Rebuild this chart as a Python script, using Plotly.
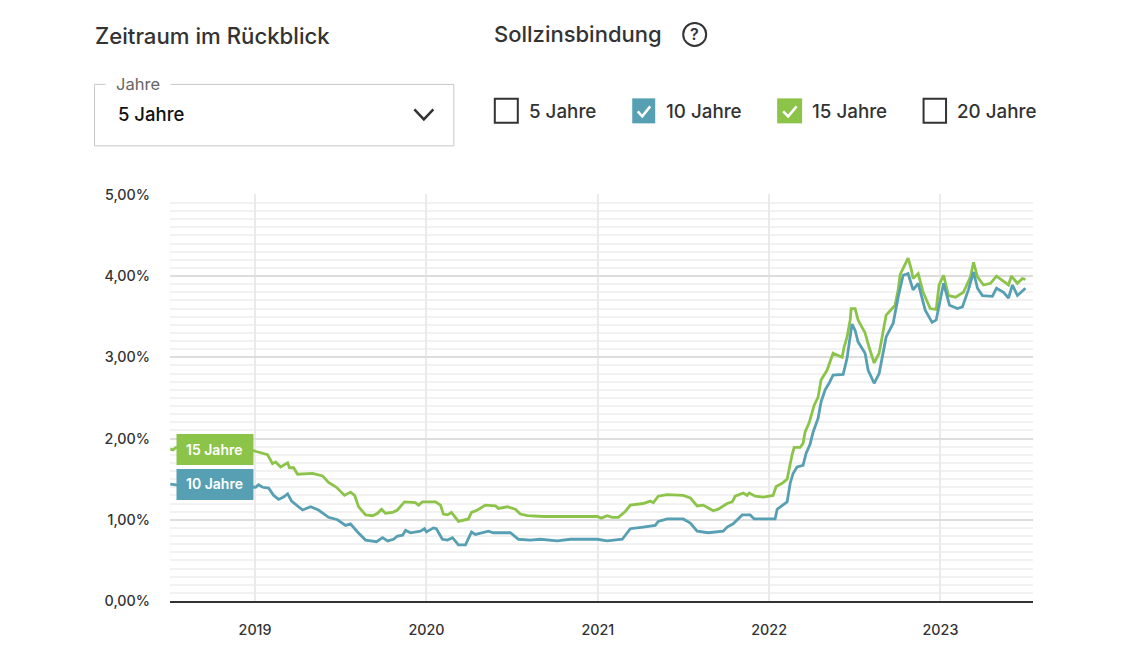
import plotly.graph_objects as go

# ---- data ----
years_15 = [2018.505,2018.52,2018.54,2018.99,2019.073,2019.102,2019.12,2019.149,2019.19,2019.201,2019.225,2019.248,2019.335,2019.394,2019.429,2019.475,2019.522,2019.557,2019.581,2019.604,2019.645,2019.686,2019.715,2019.738,2019.761,2019.802,2019.831,2019.872,2019.936,2019.954,2019.977,
2020.053,2020.082,2020.099,2020.123,2020.146,2020.187,2020.245,2020.263,2020.298,2020.344,2020.403,2020.42,2020.473,2020.519,2020.548,2020.589,2020.683,2020.799,2020.997,
2021.02,2021.055,2021.085,2021.12,2021.16,2021.19,2021.265,2021.306,2021.324,2021.353,2021.405,2021.499,2021.54,2021.58,2021.615,2021.674,2021.703,2021.755,2021.785,2021.802,2021.849,2021.872,2021.884,2021.919,2021.965,
2022.006,2022.023,2022.041,2022.076,2022.105,2022.117,2022.134,2022.146,2022.181,2022.198,2022.21,2022.233,2022.251,2022.263,2022.286,2022.303,2022.338,2022.356,2022.373,2022.426,2022.438,2022.455,2022.473,2022.479,2022.502,2022.519,2022.56,2022.584,2022.613,2022.642,2022.665,2022.683,2022.735,2022.753,2022.765,2022.782,2022.811,2022.829,2022.84,2022.87,2022.899,2022.94,2022.975,2022.992,
2023.018,2023.047,2023.088,2023.134,2023.175,2023.193,2023.216,2023.251,2023.292,2023.327,2023.397,2023.414,2023.449,2023.478,2023.496]
rates_15 = [1.87,1.86,1.89,1.85,1.80,1.69,1.71,1.65,1.70,1.64,1.64,1.56,1.57,1.54,1.46,1.40,1.30,1.34,1.30,1.16,1.06,1.05,1.08,1.13,1.08,1.09,1.12,1.22,1.21,1.18,1.22,
1.22,1.18,1.07,1.06,1.09,0.98,1.01,1.09,1.12,1.18,1.17,1.14,1.16,1.13,1.07,1.05,1.04,1.04,1.04,
1.02,1.05,1.03,1.03,1.10,1.18,1.20,1.23,1.21,1.29,1.31,1.30,1.27,1.17,1.18,1.11,1.13,1.20,1.22,1.29,1.33,1.30,1.33,1.29,1.28,
1.29,1.30,1.41,1.45,1.50,1.64,1.80,1.89,1.89,1.94,2.08,2.19,2.33,2.41,2.51,2.72,2.84,2.94,3.05,3.00,3.13,3.25,3.46,3.60,3.60,3.46,3.30,3.12,2.93,3.05,3.33,3.52,3.64,3.83,4.02,4.09,4.22,4.09,3.97,4.03,3.80,3.60,3.59,3.89,
4.01,3.76,3.74,3.80,3.99,4.17,3.99,3.89,3.91,4.00,3.89,4.00,3.91,3.97,3.96]

years_10 = [2018.505,2018.54,2019.003,2019.02,2019.044,2019.079,2019.108,2019.137,2019.166,2019.19,2019.213,2019.277,2019.324,2019.37,2019.429,2019.481,2019.528,2019.557,2019.598,2019.645,2019.709,2019.744,2019.773,2019.808,2019.831,2019.861,2019.878,2019.907,2019.965,2019.989,
2020.0,2020.041,2020.058,2020.093,2020.123,2020.152,2020.187,2020.228,2020.263,2020.286,2020.362,2020.391,2020.49,2020.508,2020.537,2020.607,2020.665,2020.764,2020.84,2020.997,
2021.055,2021.143,2021.19,2021.265,2021.335,2021.353,2021.405,2021.499,2021.54,2021.58,2021.645,2021.732,2021.755,2021.79,2021.843,2021.889,2021.913,2021.994,
2022.035,2022.047,2022.076,2022.105,2022.123,2022.14,2022.163,2022.198,2022.216,2022.239,2022.257,2022.286,2022.303,2022.327,2022.35,2022.373,2022.432,2022.455,2022.467,2022.484,2022.502,2022.519,2022.56,2022.578,2022.613,2022.642,2022.683,2022.724,2022.753,2022.782,2022.811,2022.84,2022.87,2022.911,2022.951,2022.975,
2023.018,2023.053,2023.099,2023.128,2023.163,2023.193,2023.216,2023.245,2023.303,2023.327,2023.368,2023.397,2023.42,2023.449,2023.496]
rates_10 = [1.44,1.43,1.40,1.43,1.40,1.39,1.30,1.25,1.28,1.32,1.23,1.12,1.16,1.12,1.03,1.00,0.93,0.95,0.85,0.75,0.73,0.78,0.74,0.76,0.80,0.81,0.87,0.84,0.86,0.89,
0.85,0.90,0.89,0.76,0.75,0.78,0.69,0.69,0.85,0.82,0.86,0.84,0.84,0.81,0.76,0.75,0.76,0.74,0.76,0.76,
0.74,0.76,0.89,0.91,0.93,0.98,1.01,1.01,0.96,0.86,0.84,0.86,0.91,0.95,1.06,1.06,1.01,1.01,
1.01,1.13,1.17,1.22,1.45,1.57,1.65,1.67,1.82,1.93,2.08,2.25,2.45,2.60,2.68,2.78,2.79,2.99,3.17,3.41,3.33,3.19,3.05,2.84,2.68,2.80,3.25,3.42,3.74,4.01,4.03,3.83,3.91,3.58,3.43,3.46,
3.91,3.64,3.60,3.62,3.83,4.05,3.85,3.76,3.75,3.85,3.80,3.73,3.89,3.76,3.85]

year_ticks = [2019, 2020, 2021, 2022, 2023]
rate_ticks = [0, 1, 2, 3, 4, 5]
rate_labels = ["0,00%", "1,00%", "2,00%", "3,00%", "4,00%", "5,00%"]
series_names = ["10 Jahre", "15 Jahre"]

# ---- layout constants ----
W, H = 1143, 658
L, R, T, B = 169.5, 1033, 193.7, 601
BLUE, GREEN, DARK = "#579FB3", "#8CC449", "#333333"
FONT = "Inter"

def px(x): return (x - L) / (R - L)
def py(y): return (B - y) / (B - T)

shapes, annos = [], []

def rect(x0, y0, x1, y1, fill="rgba(0,0,0,0)", line=None, lw=1.5):
    shapes.append(dict(type="rect", xref="paper", yref="paper", x0=px(x0), x1=px(x1), y0=py(y0), y1=py(y1),
                       fillcolor=fill, line=dict(color=line or fill, width=lw if line else 0), layer="above"))

def poly(points, color, lw=2.5):
    d = "M " + " L ".join(f"{px(a):.5f},{py(b):.5f}" for a, b in points)
    shapes.append(dict(type="path", xref="paper", yref="paper", path=d, line=dict(color=color, width=lw), layer="above"))

def text(x, y, s, size, color=DARK, anchor="left", weight=500):
    annos.append(dict(xref="paper", yref="paper", x=px(x), y=py(y), text=s, showarrow=False, xanchor=anchor, yanchor="middle",
                      borderpad=0, font=dict(family=FONT, size=size, color=color, weight=weight)))

# headings
text(93.5, 35, "Zeitraum im Rückblick", 22.2, weight=500)
text(492.5, 33.5, "Sollzinsbindung", 22, weight=500)
shapes.append(dict(type="circle", xref="paper", yref="paper", x0=px(683), x1=px(706), y0=py(22.5), y1=py(45.5),
                   line=dict(color=DARK, width=2), layer="above"))
text(694.5, 34, "?", 16, anchor="center", weight=600)

# dropdown
rect(94, 84, 453.5, 145.5, fill="rgba(0,0,0,0)", line="#C8C8C8", lw=1)
rect(105, 80, 170, 90, fill="#FFFFFF")
text(114, 84, "Jahre", 16.5, color="#666666", weight=400)
text(116.5, 114, "5 Jahre", 18.5, color="#111111", weight=500)
poly([(414, 109), (423.5, 119), (433, 109)], DARK, 2.5)

# checkboxes
rect(494.5, 98.5, 517.5, 122.5, fill="#FFFFFF", line=DARK, lw=2)
text(528, 111, "5 Jahre", 18.8, weight=500)
rect(632, 98, 655, 123, fill=BLUE)
poly([(637.5, 111), (642, 116), (650, 106)], "#FFFFFF", 2.5)
text(665, 111, "10 Jahre", 18.8, weight=500)
rect(777, 98, 802, 123, fill=GREEN)
poly([(783, 111), (788, 116), (796.5, 106)], "#FFFFFF", 2.5)
text(811, 111, "15 Jahre", 18.8, weight=500)
rect(923.5, 98.5, 946, 122.5, fill="#FFFFFF", line=DARK, lw=2)
text(956, 111, "20 Jahre", 18.8, weight=500)

# series tags on the plot
rect(176, 434, 253, 465, fill=GREEN)
text(214, 449, series_names[1], 14, color="#FFFFFF", anchor="center", weight=600)
rect(176, 469, 253, 500, fill=BLUE)
text(214, 483.5, series_names[0], 14, color="#FFFFFF", anchor="center", weight=600)

fig = go.Figure()
fig.add_trace(go.Scatter(x=years_15, y=rates_15, mode="lines", name=series_names[1], line=dict(color=GREEN, width=2.8)))
fig.add_trace(go.Scatter(x=years_10, y=rates_10, mode="lines", name=series_names[0], line=dict(color=BLUE, width=2.8)))

fig.update_layout(
    width=W, height=H, autosize=False, showlegend=False,
    paper_bgcolor="#FFFFFF", plot_bgcolor="#FFFFFF",
    margin=dict(l=L, r=W - R, t=T, b=H - B, pad=0),
    shapes=shapes, annotations=annos,
    xaxis=dict(range=[2018.5035, 2023.54], tickmode="array", tickvals=year_ticks, ticktext=[str(y) for y in year_ticks],
               showgrid=True, gridcolor="#EBEBEB", gridwidth=2, zeroline=False,
               showline=True, linecolor=DARK, linewidth=1.5, ticks="", ticklabelstandoff=15,
               tickfont=dict(family=FONT, size=14.3, color=DARK, weight=500)),
    yaxis=dict(range=[0, 5.01], tickmode="array", tickvals=rate_ticks, ticktext=rate_labels,
               showgrid=True, gridcolor="#DDDDDD", gridwidth=1.5, zeroline=False, showline=False, ticks="",
               ticklabelstandoff=19,
               minor=dict(tickmode="linear", tick0=0, dtick=0.1, showgrid=True, gridcolor="#F2F2F2", gridwidth=2, ticks=""),
               tickfont=dict(family=FONT, size=14.3, color=DARK, weight=500)),
)

fig.write_html("out.html", post_script="document.body.style.margin='0';", config=dict(displayModeBar=False))
